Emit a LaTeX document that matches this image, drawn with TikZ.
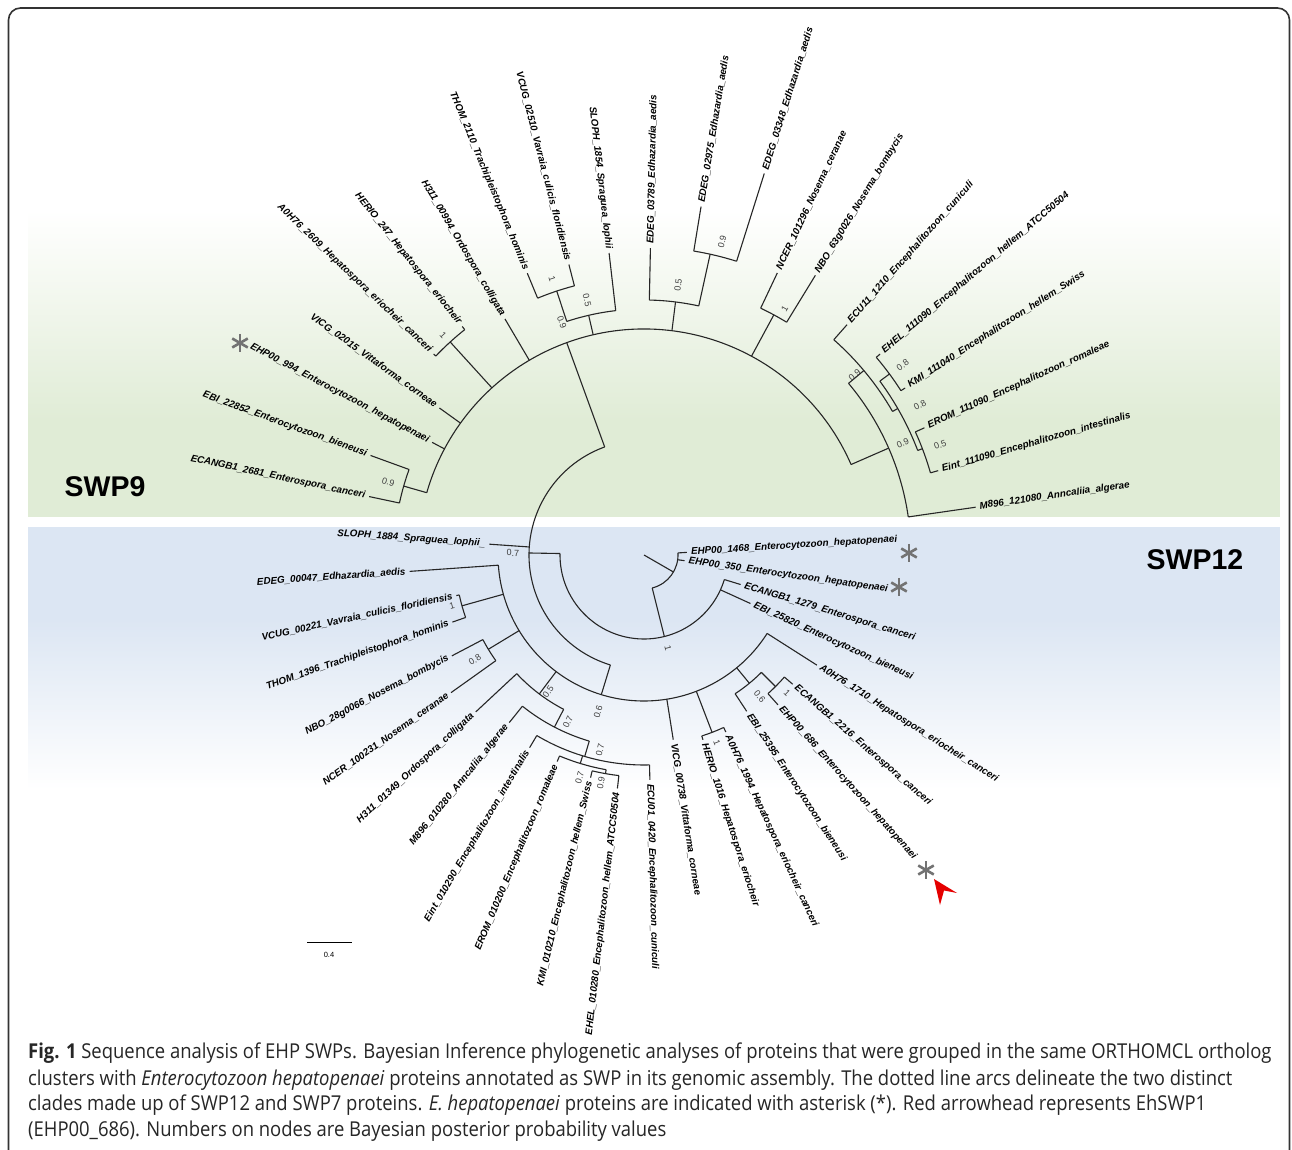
\documentclass[tikz,border=0pt]{standalone}
\usepackage{fontspec}
\setmainfont{Liberation Sans}
\newfontfamily\capfont[FakeStretch=0.9]{Open Sans}
\usetikzlibrary{calc}
\definecolor{bandgreen}{RGB}{224,236,214}
\definecolor{bandblue}{RGB}{220,230,243}
\newcommand\Rad[3]{\draw[branch] (C) ++(#1:#2) -- ++(#1:{#3-(#2)});}
\newcommand\Arc[3]{\draw[branch] (C) ++(#1:#3) arc[start angle=#1, end angle=#2, radius=#3];}
\newcommand\Leaf[5]{%
  \Rad{#1}{#2}{#3}%
  \pgfmathsetmacro\la{mod(#1+720,360)}%
  \pgfmathparse{and(\la>90,\la<270)}%
  \ifdim\pgfmathresult pt>0.5pt
    \node[leaflab,anchor=east,rotate=\la-180] (#4) at ($(C)+(#1:{#3+4})$) {#5};
  \else
    \node[leaflab,anchor=west,rotate=\la] (#4) at ($(C)+(#1:{#3+4})$) {#5};
  \fi}
\newcommand\Sv[4]{%
  \pgfmathsetmacro\la{mod(#2+720,360)}%
  \pgfmathparse{and(\la>90,\la<270)}%
  \ifdim\pgfmathresult pt>0.5pt
    \node[supval,rotate=\la-180] (#1) at ($(C)+(#2:#3)$) {#4};
  \else
    \node[supval,rotate=\la] (#1) at ($(C)+(#2:#3)$) {#4};
  \fi}
\newcommand\Ast[3]{%
  \coordinate (#1) at (#2,#3);
  \foreach \t in {90,30,-30}{\draw[astline] (#1) ++(\t:9) -- ++({\t+180}:18);}}
\begin{document}
\begin{tikzpicture}[x=1pt,y=1pt,
  branch/.style={line width=1.1pt, draw=black!85},
  leaflab/.style={font=\fontsize{9.8}{10}\selectfont\bfseries\itshape, inner sep=0pt, text=black},
  supval/.style={font=\fontsize{9}{10}\selectfont, inner sep=0pt, text=black!75},
  astline/.style={line width=2.6pt, draw=black!55},
]
\useasboundingbox (0,0) rectangle (1292,1149);
\fill[white] (0,0) rectangle (1292,1149);
% bands
\shade[top color=white, bottom color=bandgreen] (28,729) rectangle (1280,939);
\fill[bandgreen] (28,632) rectangle (1280,729.5);
\fill[bandblue] (28,529) rectangle (1280,622);
\shade[top color=bandblue, bottom color=white] (28,359) rectangle (1280,529.5);
% frame
\begin{scope}
\clip (0,0) rectangle (1292,1149);
\draw[line width=1.6pt, black!80, rounded corners=12pt] (8.5,-30) rectangle (1289.5,1141);
\end{scope}
% clade labels
\node[font=\fontsize{28.5}{30}\selectfont\bfseries] (swp9) at (105,662) {SWP9};
\node[font=\fontsize{28.5}{30}\selectfont\bfseries] (swp12) at (1195,589) {SWP12};

\coordinate (C) at (644,594);
% root
\Rad{-30}{0}{34}
\Arc{-76}{3.5}{34}
\Leaf{3.5}{34}{43}{n1}{EHP00\_1468\_Enterocytozoon\_hepatopenaei}
\Leaf{-8}{34}{41}{n2}{EHP00\_350\_Enterocytozoon\_hepatopenaei}
\Rad{-76}{34}{84}
\Arc{179}{343}{84}
\Leaf{335.5}{84}{117}{n3}{EBI\_25820\_Enterocytozoon\_bieneusi}
\Leaf{343}{84}{101}{n4}{ECANGB1\_1279\_Enterospora\_canceri}
\Rad{179}{84}{115}
\Arc{110}{253}{115}
\Leaf{176}{115}{155}{n5}{SLOPH\_1884\_Spraguea\_lophii\_}
\Rad{110}{115}{226}
\Arc{23.6}{164}{226}
\Rad{253}{115}{146}
\Arc{184}{327.5}{146}
% SWP9
\Rad{164}{226}{250}
\Arc{160}{168}{250}
\Leaf{168}{250}{281}{n6}{ECANGB1\_2681\_Enterospora\_canceri}
\Leaf{160}{250}{291}{n7}{EBI\_22852\_Enterocytozoon\_bieneusi}
\Leaf{152}{226}{240}{n8}{EHP00\_994\_Enterocytozoon\_hepatopenaei}
\Leaf{144.3}{226}{252}{n9}{VICG\_02015\_Vittaforma\_corneae}
\Rad{132.3}{226}{288}
\Arc{128.5}{136.3}{288}
\Leaf{136.3}{288}{291}{n10}{A0H76\_2609\_Hepatospora\_eriocheir\_canceri}
\Leaf{128.5}{288}{292}{n11}{HERIO\_247\_Hepatospora\_eriocheir}
\Leaf{120.5}{226}{274}{n12}{H311\_00994\_Ordospora\_colligata}
\Rad{103}{226}{246}
\Arc{96.6}{108.3}{246}
\Leaf{96.6}{246}{304}{n13}{SLOPH\_1854\_Spraguea\_lophii}
\Rad{108.3}{246}{278}
\Arc{104.5}{112.5}{278}
\Leaf{104.5}{278}{300}{n14}{VCUG\_02510\_Vavraia\_culicis\_floridiensis}
\Leaf{112.5}{278}{305}{n15}{THOM\_2110\_Trachipleistophora\_hominis}
\Rad{82.9}{226}{255}
\Arc{77.6}{88.8}{255}
\Leaf{88.8}{255}{307}{n16}{EDEG\_03789\_Edhazardia\_aedis}
\Rad{77.6}{255}{308}
\Arc{72.5}{80.7}{308}
\Leaf{80.7}{308}{353}{n17}{EDEG\_02975\_Edhazardia\_aedis}
\Leaf{72.5}{308}{400}{n18}{EDEG\_03348\_Edhazardia\_aedis}
\Rad{61.6}{226}{273}
\Arc{58.5}{64.7}{273}
\Leaf{64.7}{273}{312}{n19}{NCER\_101296\_Nosema\_ceranae}
\Leaf{58.5}{273}{328}{n20}{NBO\_63g0026\_Nosema\_bombycis}
\Rad{23.6}{226}{267}
\Arc{8.2}{40}{267}
\Leaf{8.2}{267}{335}{n21}{M896\_121080\_Anncaliia\_algerae}
\Rad{40}{267}{287}
\Arc{30}{48.6}{287}
\Leaf{48.6}{287}{307}{n22}{ECU11\_1210\_Encephalitozoon\_cuniculi}
\Rad{30}{287}{293}
\Arc{20.9}{36.4}{293}
\Rad{36.4}{293}{305}
\Arc{32.6}{40.4}{305}
\Leaf{40.4}{305}{310}{n23}{EHEL\_111090\_Encephalitozoon\_hellem\_ATCC50504}
\Leaf{32.6}{305}{310}{n24}{KMI\_111040\_Encephalitozoon\_hellem\_Swiss}
\Rad{20.9}{293}{298}
\Arc{16}{24.4}{298}
\Leaf{24.4}{298}{308}{n25}{EROM\_111090\_Encephalitozoon\_romaleae}
\Leaf{16}{298}{306}{n26}{Eint\_111090\_Encephalitozoon\_intestinalis}
% SWP12 lower
\Leaf{184}{146}{235}{n27}{EDEG\_00047\_Edhazardia\_aedis}
\Rad{195.6}{146}{189}
\Arc{192.2}{199.3}{189}
\Leaf{192.2}{189}{192}{n28}{VCUG\_00221\_Vavraia\_culicis\_floridiensis}
\Leaf{199.3}{189}{203}{n29}{THOM\_1396\_Trachipleistophora\_hominis}
\Rad{211.2}{146}{182}
\Arc{207.7}{215.5}{182}
\Leaf{207.7}{182}{217}{n30}{NBO\_28g0066\_Nosema\_bombycis}
\Leaf{215.5}{182}{237}{n31}{NCER\_100231\_Nosema\_ceranae}
\Rad{233}{146}{174}
\Arc{223}{242.5}{174}
\Leaf{223}{174}{230}{n32}{H311\_01349\_Ordospora\_colligata}
\Rad{242.5}{174}{194}
\Arc{231.2}{253.6}{194}
\Leaf{231.2}{194}{215}{n33}{M896\_010280\_Anncaliia\_algerae}
\Rad{253.6}{194}{210}
\Arc{239.3}{271.5}{210}
\Leaf{239.3}{210}{224}{n34}{Eint\_010290\_Encephalitozoon\_intestinalis}
\Leaf{271.5}{210}{225}{n35}{ECU01\_0420\_Encephalitozoon\_cuniculi}
\Rad{253}{210}{218}
\Arc{247.2}{260}{218}
\Leaf{247.2}{218}{224}{n36}{EROM\_010200\_Encephalitozoon\_romaleae}
\Rad{260}{218}{222}
\Arc{256.5}{263.5}{222}
\Leaf{256.5}{222}{229}{n37}{KMI\_010210\_Encephalitozoon\_hellem\_Swiss}
\Leaf{263.5}{222}{235}{n38}{EHEL\_010280\_Encephalitozoon\_hellem\_ATCC50504}
\Leaf{279}{146}{187}{n39}{VICG\_00738\_Vittaforma\_corneae}
\Rad{291}{146}{190}
\Arc{287.7}{294.8}{190}
\Leaf{287.7}{190}{194}{n40}{HERIO\_1016\_Hepatospora\_eriocheir}
\Leaf{294.8}{190}{195}{n41}{A0H76\_1994\_Hepatospora\_eriocheir\_canceri}
\Rad{309.4}{146}{166}
\Arc{303.3}{315}{166}
\Leaf{303.3}{166}{187}{n42}{EBI\_25395\_Enterocytozoon\_bieneusi}
\Rad{315}{166}{186}
\Arc{311.8}{319}{186}
\Leaf{311.8}{186}{201}{n43}{EHP00\_686\_Enterocytozoon\_hepatopenaei}
\Leaf{319}{186}{197}{n44}{ECANGB1\_2216\_Enterospora\_canceri}
\Leaf{327.5}{146}{205}{n45}{A0H76\_1710\_Hepatospora\_eriocheir\_canceri}
% support values
\Sv{s1}{164.1}{266}{0.9}
\Sv{s2}{132.4}{298}{1}
\Sv{s3}{108.4}{291}{1}
\Sv{s4}{102.6}{261}{0.5}
\Sv{s5}{109.4}{247}{0.9}
\Sv{s6}{82.8}{272}{0.5}
\Sv{s7}{76}{322.6}{0.9}
\Sv{s8}{60.3}{284}{1}
\Sv{s9}{40.5}{277}{0.9}
\Sv{s10}{36.3}{321}{0.8}
\Sv{s11}{28.5}{314}{0.8}
\Sv{s12}{23.4}{282}{0.9}
\Sv{s13}{20.4}{316}{0.5}
\Sv{s14}{179.1}{131}{0.7}
\Sv{s15}{-75.5}{96}{1}
\Sv{s16}{194.9}{198.7}{1}
\Sv{s17}{211.8}{199}{0.8}
\Sv{s18}{235}{167}{0.5}
\Sv{s19}{245.5}{183.5}{0.7}
\Sv{s20}{257.3}{200}{0.7}
\Sv{s21}{253.7}{163.6}{0.6}
\Sv{s22}{253.9}{232}{0.7}
\Sv{s23}{259.3}{232}{0.9}
\Sv{s24}{291.2}{201.7}{1}
\Sv{s25}{309.2}{183}{0.6}
\Sv{s26}{316}{199}{1}
% asterisks and arrowhead
\Ast{a1}{240}{806}
\Ast{a2}{909}{596}
\Ast{a3}{899}{562}
\Ast{a4}{926}{279}
\fill[red!90!black] (934,270) -- (957,256) -- (944,258.5) -- (940,244) -- cycle;
% scale bar
\draw[line width=0.9pt] (307,207) coordinate (sb1) -- (352,207) coordinate (sb2);
\node[font=\fontsize{7.5}{8}\selectfont] (sbl) at (329,194) {0.4};
% caption
\begin{scope}[every node/.style={anchor=base west, inner sep=0pt, font=\capfont\fontsize{20.5}{22}\selectfont, text=black!85}]
\node (c1) at (28,91) {\textbf{Fig. 1} Sequence analysis of EHP SWPs. Bayesian Inference phylogenetic analyses of proteins that were grouped in the same ORTHOMCL ortholog};
\node (c2) at (28,64) {clusters with \textit{Enterocytozoon hepatopenaei} proteins annotated as SWP in its genomic assembly. The dotted line arcs delineate the two distinct};
\node (c3) at (28,38.5) {clades made up of SWP12 and SWP7 proteins. \textit{E. hepatopenaei} proteins are indicated with asterisk (*). Red arrowhead represents EhSWP1};
\node (c4) at (28,13) {(EHP00\_686). Numbers on nodes are Bayesian posterior probability values};
\end{scope}
\end{tikzpicture}
\end{document}
